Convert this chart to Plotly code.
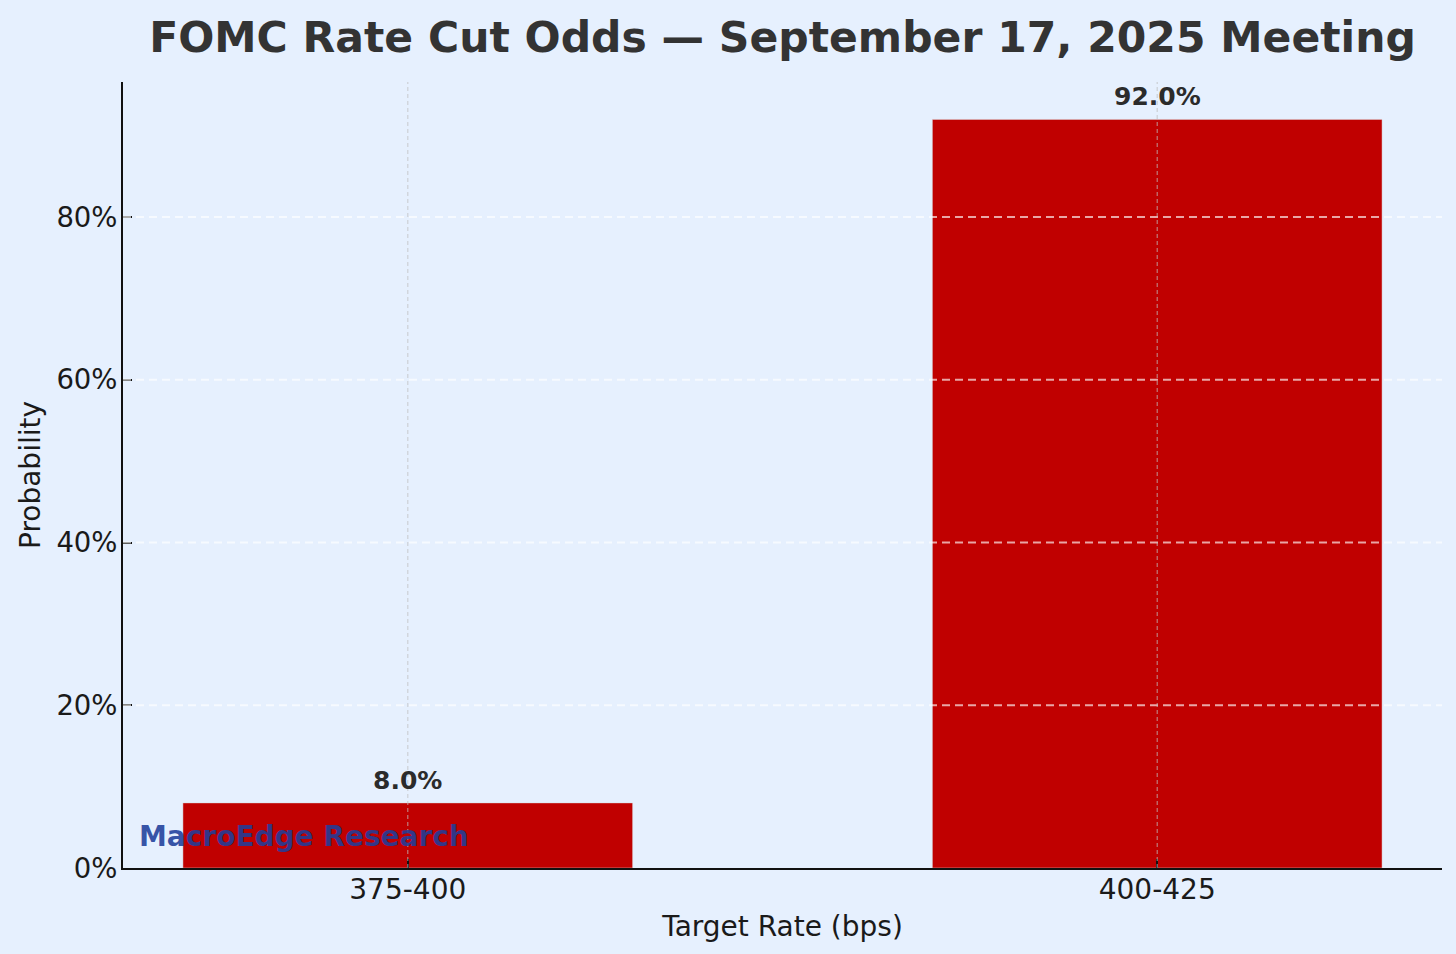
import plotly.graph_objects as go

categories = ["375-400", "400-425"]
probabilities = [8.0, 92.0]
y_ticks = [0, 20, 40, 60, 80]
title_text = "FOMC Rate Cut Odds — September 17, 2025 Meeting"
watermark = "MacroEdge Research"

FONT = "DejaVu Sans"
BG = "#e6f0fe"

fig = go.Figure()
fig.add_trace(go.Bar(
    x=categories, y=probabilities, width=0.6,
    marker=dict(color="#c00000", line=dict(width=0.6, color="rgba(220,220,220,0.8)")),
    hoverinfo="skip",
))

# value labels
for c, v in zip(categories, probabilities):
    fig.add_annotation(x=c, y=v, text=f"<b>{v:.1f}%</b>", showarrow=False,
                       yanchor="bottom", yshift=6,
                       font=dict(family=FONT, size=25, color="#2b2b2b"))

# gridlines above bars
for t in y_ticks[1:]:
    fig.add_shape(type="line", xref="paper", x0=0, x1=1, yref="y", y0=t, y1=t,
                  line=dict(color="rgba(255,255,255,0.65)", width=2, dash="8px,5px"),
                  layer="above")
for c in categories:
    fig.add_shape(type="line", xref="x", x0=c, x1=c, yref="paper", y0=0, y1=1,
                  line=dict(color="rgba(190,190,190,0.65)", width=1.2, dash="4px,3px"),
                  layer="above")

fig.add_annotation(xref="paper", yref="paper", x=0.0106, y=0.040, xanchor="left", yanchor="middle",
                   text=f"<b>{watermark}</b>", showarrow=False,
                   font=dict(family=FONT, size=28, color="rgba(31,62,155,0.88)"))

fig.update_layout(
    width=1456, height=954,
    paper_bgcolor=BG, plot_bgcolor=BG,
    margin=dict(l=123, r=14, t=82, b=86),
    showlegend=False,
    title=dict(text=f"<b>{title_text}</b>", x=0.5, xref="paper", xanchor="center",
               y=1 - 37 / 954, yref="container", yanchor="middle",
               font=dict(family=FONT, size=42.5, color="#333333")),
    font=dict(family=FONT, size=28, color="#1a1a1a"),
)
fig.update_xaxes(
    type="category", range=[-0.38, 1.38],
    showgrid=False, zeroline=False, layer="above traces",
    showline=True, linecolor="#111111", linewidth=2,
    ticks="inside", ticklen=9, tickwidth=1.5, tickcolor="#111111",
    ticklabelstandoff=-5,
    tickfont=dict(family=FONT, size=28, color="#1a1a1a"),
    title=dict(text="Target Rate (bps)", standoff=12, font=dict(family=FONT, size=28, color="#1a1a1a")),
)
fig.update_yaxes(
    range=[0, 96.6], tickvals=y_ticks, ticktext=[f"{t}%" for t in y_ticks],
    showgrid=False, zeroline=False, layer="above traces",
    showline=True, linecolor="#111111", linewidth=2,
    ticks="inside", ticklen=9, tickwidth=1.5, tickcolor="#111111",
    ticklabelstandoff=-2,
    tickfont=dict(family=FONT, size=27.5, color="#1a1a1a"),
    title=dict(text="Probability", standoff=8, font=dict(family=FONT, size=28, color="#1a1a1a")),
)

fig.write_html("out.html", config={"displayModeBar": False},
               post_script="document.body.style.margin='0';document.body.style.padding='0';")
